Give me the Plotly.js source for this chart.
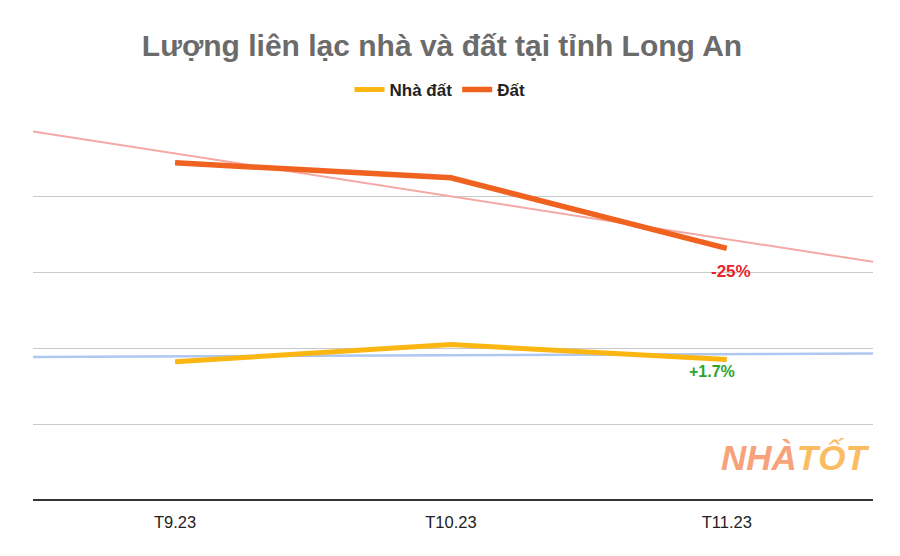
<!DOCTYPE html>
<html>
<head>
<meta charset="utf-8">
<script src="https://cdn.plot.ly/plotly-3.0.1.min.js"></script>
<style>html,body{margin:0;padding:0;background:#fff;}#chart{width:900px;height:556px;}</style>
</head>
<body>
<div id="chart"></div>
<script>
var categories = ["T9.23", "T10.23", "T11.23"];
var nhaDat = [1825, 2050, 1855];
var dat = [4450, 4250, 3320];
var seriesNames = ["Nhà đất", "Đất"];
var changeLabels = ["+1.7%", "-25%"];

var xIdx = categories.map(function (c, i) { return i; });
var xMin = -0.515, xMax = 2.53;

function trend(vals) {
  var n = vals.length, mx = 0, my = 0;
  for (var i = 0; i < n; i++) { mx += i; my += vals[i]; }
  mx /= n; my /= n;
  var sxy = 0, sxx = 0;
  for (var j = 0; j < n; j++) { sxy += (j - mx) * (vals[j] - my); sxx += (j - mx) * (j - mx); }
  var b = sxy / sxx, a = my - b * mx;
  return { x: [xMin, xMax], y: [a + b * xMin, a + b * xMax] };
}
var tDat = trend(dat), tNha = trend(nhaDat);

var traces = [
  { x: tDat.x, y: tDat.y, mode: "lines", line: { color: "#f4a9a4", width: 2 }, showlegend: false, hoverinfo: "skip" },
  { x: tNha.x, y: tNha.y, mode: "lines", line: { color: "#aec8f2", width: 2.5 }, showlegend: false, hoverinfo: "skip" },
  { x: xIdx, y: nhaDat, name: seriesNames[0], mode: "lines", line: { color: "#fbb612", width: 5 } },
  { x: xIdx, y: dat, name: seriesNames[1], mode: "lines", line: { color: "#f0621f", width: 5.5 } }
];

var layout = {
  width: 900, height: 556,
  margin: { l: 33, r: 27, t: 121, b: 56 },
  paper_bgcolor: "#fff", plot_bgcolor: "#fff",
  font: { family: "Liberation Sans, Arial, sans-serif", color: "#222" },
  title: {
    text: "<b>Lượng liên lạc nhà và đất tại tỉnh Long An</b>",
    font: { family: "Liberation Sans, Arial, sans-serif", size: 30, color: "#6b6b6b" },
    x: 442 / 900, xanchor: "center", y: 1 - 45 / 556, yanchor: "middle", yref: "container"
  },
  showlegend: true,
  legend: {
    orientation: "h", x: (440 - 33) / 840, xanchor: "center", y: (500 - 90) / 379, yanchor: "middle",
    font: { size: 17, color: "#222", family: "Liberation Sans, Arial, sans-serif", weight: "bold" },
    itemwidth: 30, traceorder: "normal"
  },
  xaxis: {
    range: [xMin, xMax], tickvals: xIdx, ticktext: categories,
    showgrid: false, zeroline: false, showline: false, ticks: "",
    tickfont: { size: 16.5, color: "#222" }, ticklabelstandoff: 10
  },
  yaxis: {
    range: [0, 5000], dtick: 1000, showticklabels: false, showgrid: true,
    gridcolor: "#c8c8c8", gridwidth: 1.3, zeroline: true, zerolinecolor: "#333", zerolinewidth: 1.5,
    showline: false, ticks: ""
  },
  annotations: [
    { x: 2, y: dat[2], xref: "x", yref: "y", text: "<b>" + changeLabels[1] + "</b>", showarrow: false,
      xshift: 4, yshift: -23, font: { size: 17, color: "#e8232a" } },
    { x: 2, y: nhaDat[2], xref: "x", yref: "y", text: "<b>" + changeLabels[0] + "</b>", showarrow: false,
      xshift: -15, yshift: -2, yanchor: "top", font: { size: 16, color: "#2aa52a" } },
    {
      x: (795 - 33) / 840, y: (500 - 457) / 379, xref: "paper", yref: "paper", showarrow: false,
      text: "<b><i><span style='color:#f8a27c'>NHÀ</span><span style='color:#fbbd62'>TỐT</span></i></b>",
      font: { size: 35, family: "Liberation Sans, Arial, sans-serif" }, xanchor: "center", yanchor: "middle"
    }
  ]
};

Plotly.newPlot("chart", traces, layout, { displayModeBar: false, staticPlot: true });
</script>
</body>
</html>
